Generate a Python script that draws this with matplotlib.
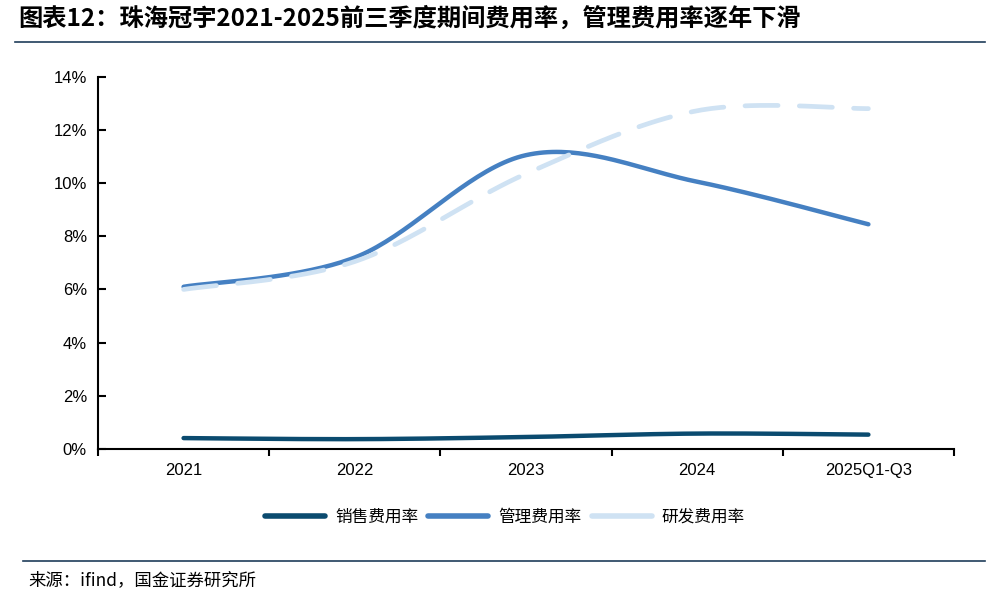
import numpy as np
import matplotlib.pyplot as plt
from matplotlib.lines import Line2D

plt.rcParams['font.family'] = ['Liberation Sans', 'Noto Sans CJK SC', 'DejaVu Sans']

# ============================================================================
# Data (percent)
# ============================================================================
categories = ['2021', '2022', '2023', '2024', '2025Q1-Q3']
sales_rate = [0.41, 0.37, 0.45, 0.58, 0.54]
admin_rate = [6.10, 7.20, 11.05, 10.05, 8.45]
rd_rate = [6.00, 7.05, 10.35, 12.72, 12.80]

labels = ['销售费用率', '管理费用率', '研发费用率']
colors = ['#0b4b6f', '#4580c2', '#cfe2f3']

title = '图表12：珠海冠宇2021-2025前三季度期间费用率，管理费用率逐年下滑'
source = '来源：ifind，国金证券研究所'


def smooth(y, n=40):
    """Excel-style smoothed line: Catmull-Rom through the points as cubic Beziers."""
    x = np.arange(len(y), dtype=float)
    y = np.asarray(y, dtype=float)
    pts = np.column_stack([x, y])
    out = [pts[0]]
    t = np.linspace(0, 1, n)[1:]
    for i in range(len(pts) - 1):
        p0 = pts[max(i - 1, 0)]
        p1 = pts[i]
        p2 = pts[i + 1]
        p3 = pts[min(i + 2, len(pts) - 1)]
        c1 = p1 + (p2 - p0) / 6
        c2 = p2 - (p3 - p1) / 6
        seg = ((1 - t) ** 3)[:, None] * p1 + (3 * (1 - t) ** 2 * t)[:, None] * c1 \
            + (3 * (1 - t) * t ** 2)[:, None] * c2 + (t ** 3)[:, None] * p2
        out.extend(seg)
    out = np.array(out)
    return out[:, 0], out[:, 1]


fig = plt.figure(figsize=(10, 5.9), dpi=100)
ax = fig.add_axes([0.098, 0.239, 0.856, 0.631])

ax.plot(*smooth(sales_rate), color=colors[0], lw=3.2, solid_capstyle='round')
ax.plot(*smooth(admin_rate), color=colors[1], lw=3.2, solid_capstyle='round')
ax.plot(*smooth(rd_rate), color=colors[2], lw=3.4, dashes=(7, 4.5),
        dash_capstyle='round', zorder=3)

ax.set_xlim(-0.5, len(categories) - 0.5)
ax.set_ylim(0, 14)
ax.set_yticks(np.arange(0, 15, 2))
ax.set_yticklabels([f'{v}%' for v in range(0, 15, 2)], fontsize=12)
ax.set_xticks(range(len(categories)))
ax.set_xticklabels(categories, fontsize=12)
ax.set_xticks(np.arange(-0.5, len(categories)), minor=True)
ax.tick_params(axis='x', which='major', length=0, pad=10)
ax.tick_params(axis='x', which='minor', length=5, width=1.5, direction='out')
ax.tick_params(axis='y', length=6, width=1.5, direction='in', pad=8)

for s in ['top', 'right']:
    ax.spines[s].set_visible(False)
for s in ['left', 'bottom']:
    ax.spines[s].set_linewidth(1.5)
    ax.spines[s].set_color('black')

handles = [Line2D([0], [0], color=c, lw=4, solid_capstyle='round') for c in colors]
fig.legend(handles, labels, loc='center', bbox_to_anchor=(0.505, 0.124), ncol=3,
           frameon=False, handlelength=3.6, columnspacing=0.6,
           handletextpad=0.6, prop={'family': ['Noto Sans CJK SC'], 'size': 12})

# title and source with rules
fig.text(0.018, 0.968, title, fontsize=17.5, fontweight='bold', style='italic',
         family=['Noto Sans CJK SC'], va='center', ha='left')
fig.add_artist(Line2D([0.015, 0.985], [0.929, 0.929], color='#1f3d5a', lw=1.2))
fig.add_artist(Line2D([0.023, 0.985], [0.049, 0.049], color='#1f3d5a', lw=1.2))
fig.text(0.028, 0.016, source, fontsize=12.5, family=['Noto Sans CJK SC'],
         va='center', ha='left')

fig.savefig('out.png', dpi=100)
